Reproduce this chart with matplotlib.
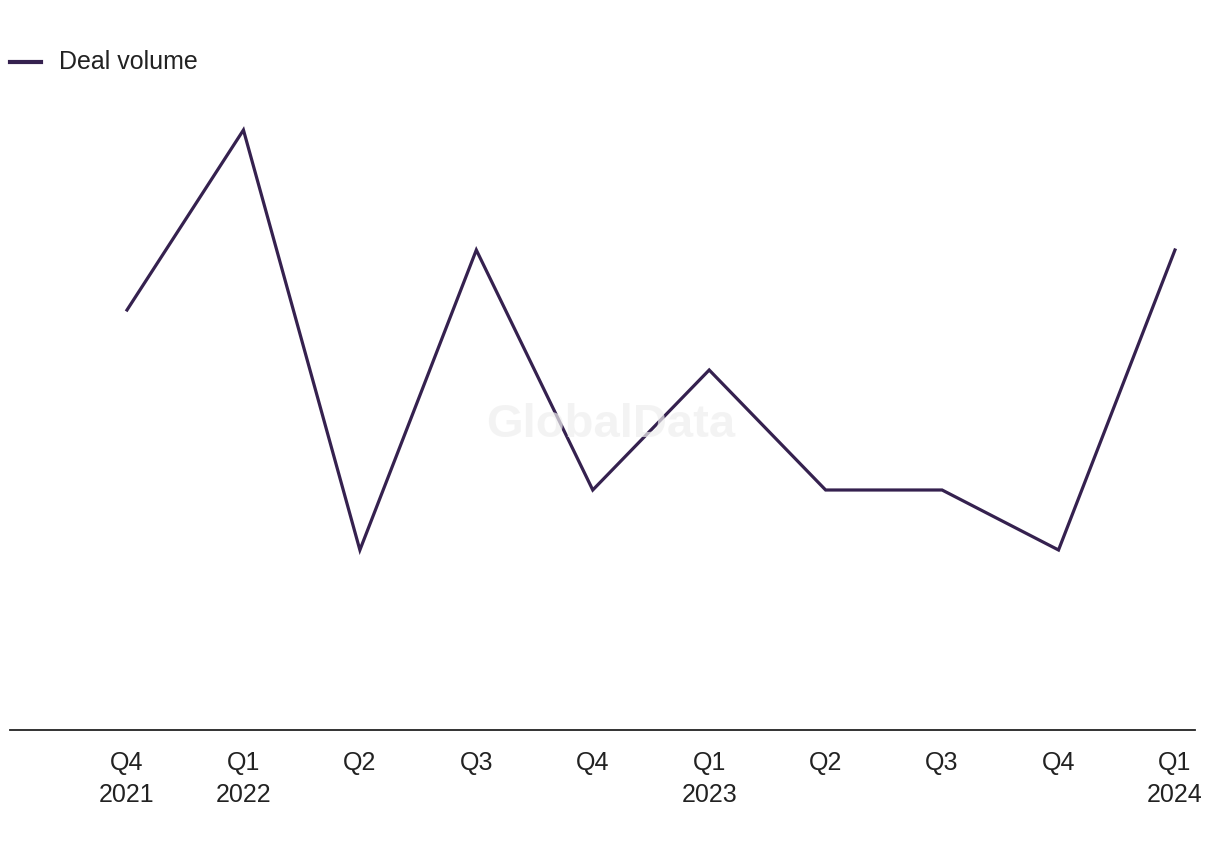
import matplotlib.pyplot as plt

plt.rcParams['font.family'] = ['Liberation Sans', 'DejaVu Sans']

quarters = ['Q4\n2021', 'Q1\n2022', 'Q2', 'Q3', 'Q4', 'Q1\n2023', 'Q2', 'Q3', 'Q4', 'Q1\n2024']
deal_volume = [7, 10, 3, 8, 4, 6, 4, 4, 3, 8]

line_color = '#35214f'
text_color = '#222222'

fig = plt.figure(figsize=(12.2, 8.5), dpi=100)
ax = fig.add_axes([10 / 1220, 120 / 850, 1185 / 1220, 660 / 850])

x = list(range(len(quarters)))
ax.plot(x, deal_volume, color=line_color, linewidth=2.3, solid_joinstyle='miter', zorder=2)

ax.set_ylim(0, 11)
ax.set_xlim((10 - 127) / 116.44, (1195 - 127) / 116.44)
ax.set_xticks(x)
ax.set_xticklabels(quarters, fontsize=18, color=text_color, linespacing=1.45)
ax.tick_params(axis='x', length=0, pad=15)
ax.set_yticks([])
for side in ['top', 'right', 'left']:
    ax.spines[side].set_visible(False)
ax.spines['bottom'].set_color(text_color)
ax.spines['bottom'].set_linewidth(1.3)

# watermark
ax.text(0.507, 0.462, 'GlobalData', transform=ax.transAxes, ha='center', va='center',
        fontsize=34, fontweight='bold', color='#efefef', alpha=0.7, zorder=3)

# legend
fig.lines.append(plt.Line2D([10 / 1220, 41 / 1220], [1 - 62 / 850] * 2, color=line_color,
                            linewidth=3, transform=fig.transFigure))
fig.text(59 / 1220, 1 - 62 / 850, 'Deal volume', fontsize=18, color=text_color, va='center')

fig.savefig('out.png', dpi=100, facecolor='white')
